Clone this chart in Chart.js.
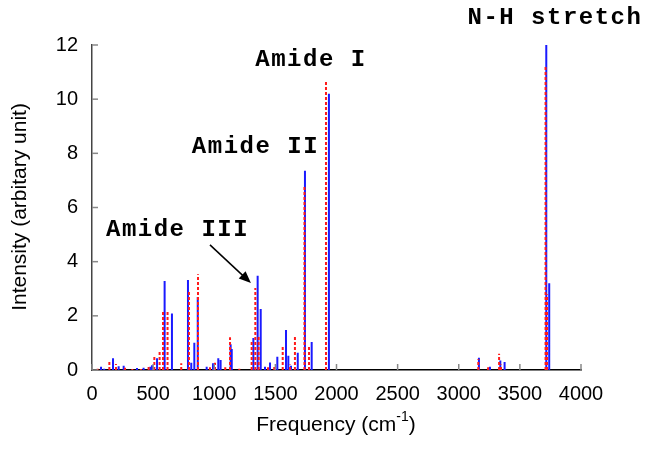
<!DOCTYPE html>
<html>
<head>
<meta charset="utf-8">
<script src="https://cdn.jsdelivr.net/npm/chart.js@4.4.0/dist/chart.umd.min.js"></script>
<style>
body { margin: 0; background: #fff; }
#spectrum { display: block; }
</style>
</head>
<body>
<canvas id="spectrum" width="654" height="461"></canvas>
<script>
/* IR stick spectrum */

// blue sticks (solid)
var blueFreq = [74, 100, 172, 218, 259, 368, 422, 477, 491, 532, 594, 654, 785, 812, 837, 865,
	938, 990, 1033, 1052, 1134, 1143, 1320, 1355, 1380, 1415, 1456, 1516, 1587, 1606, 1628,
	1683, 1742, 1797, 1938, 3165, 3255, 3340, 3375, 3716, 3740];
var blueInt = [0.12, 0.05, 0.43, 0.14, 0.16, 0.07, 0.08, 0.12, 0.18, 0.43, 3.29, 2.09, 3.32, 0.27, 1.01, 2.7,
	0.12, 0.25, 0.43, 0.37, 0.95, 0.78, 1.18, 3.48, 2.25, 0.12, 0.28, 0.49, 1.48, 0.53, 0.16,
	0.64, 7.36, 1.03, 10.2, 0.45, 0.12, 0.35, 0.3, 12.0, 3.2];

// red sticks (dotted)
var redFreq = [46, 142, 196, 270, 330, 400, 463, 510, 553, 581, 618, 730, 793, 867,
	965, 1006, 1090, 1129, 1205, 1306, 1336, 1363, 1440, 1491, 1560, 1620, 1660,
	1738, 1775, 1914, 3160, 3240, 3330, 3345, 3710, 3722];
var redInt = [0.05, 0.31, 0.22, 0.08, 0.04, 0.04, 0.12, 0.49, 0.68, 2.22, 2.15, 0.25, 2.95, 3.54,
	0.1, 0.27, 0.1, 1.21, 0.05, 1.05, 3.03, 1.29, 0.1, 0.16, 0.86, 0.2, 1.29,
	6.83, 0.89, 10.65, 0.4, 0.1, 0.6, 0.2, 11.25, 2.8];

var xTicks = [0, 500, 1000, 1500, 2000, 2500, 3000, 3500, 4000];
var yTicks = [0, 2, 4, 6, 8, 10, 12];

var peakLabels = ['N-H stretch', 'Amide I', 'Amide II', 'Amide III'];

// each stick = (f,0) -> (f,I) then a gap
function sticks(freqs, ints) {
	var pts = [];
	freqs.forEach(function(f, i) {
		pts.push({x: f, y: 0}, {x: f, y: ints[i]}, {x: f, y: null});
	});
	return pts;
}

var extras = {
	id: 'extras',
	afterDraw: function(chart) {
		var ctx = chart.ctx;
		var xs = chart.scales.x, ys = chart.scales.y;
		var area = chart.chartArea;
		ctx.save();

		// inward tick marks
		ctx.strokeStyle = '#888';
		ctx.lineWidth = 1.5;
		xTicks.forEach(function(v) {
			var px = xs.getPixelForValue(v);
			ctx.beginPath();
			ctx.moveTo(px, area.bottom);
			ctx.lineTo(px, area.bottom - 6);
			ctx.stroke();
		});
		yTicks.forEach(function(v) {
			var py = ys.getPixelForValue(v);
			ctx.beginPath();
			ctx.moveTo(area.left, py);
			ctx.lineTo(area.left + 6, py);
			ctx.stroke();
		});

		// axis titles
		ctx.fillStyle = '#000';
		ctx.font = '21px "Liberation Sans", Arial, sans-serif';
		ctx.textBaseline = 'middle';
		ctx.textAlign = 'center';
		ctx.save();
		ctx.translate(20, 207);
		ctx.rotate(-Math.PI / 2);
		ctx.fillText('Intensity (arbitary unit)', 0, 0);
		ctx.restore();

		var t1 = 'Frequency (cm', t2 = '-1', t3 = ')';
		ctx.font = '21px "Liberation Sans", Arial, sans-serif';
		var w1 = ctx.measureText(t1).width, w3 = ctx.measureText(t3).width;
		ctx.font = '14px "Liberation Sans", Arial, sans-serif';
		var w2 = ctx.measureText(t2).width;
		var x0 = 336 - (w1 + w2 + w3) / 2;
		ctx.textAlign = 'left';
		ctx.font = '21px "Liberation Sans", Arial, sans-serif';
		ctx.fillText(t1, x0, 425);
		ctx.fillText(t3, x0 + w1 + w2, 425);
		ctx.font = '14px "Liberation Sans", Arial, sans-serif';
		ctx.fillText(t2, x0 + w1, 417);

		// peak annotations
		ctx.font = 'bold 24px "Liberation Mono", "Courier New", monospace';
		ctx.letterSpacing = '1.5px';
		ctx.textAlign = 'center';
		var spots = [[3787, 13.0], [1791, 11.45], [1337, 8.23], [700, 5.17]];
		peakLabels.forEach(function(txt, i) {
			ctx.fillText(txt, xs.getPixelForValue(spots[i][0]), ys.getPixelForValue(spots[i][1]));
		});
		ctx.letterSpacing = '0px';

		// arrow to Amide III
		var ax = xs.getPixelForValue(965), ay = ys.getPixelForValue(4.62);
		var bx = xs.getPixelForValue(1300), by = ys.getPixelForValue(3.21);
		var ang = Math.atan2(by - ay, bx - ax);
		ctx.strokeStyle = '#000';
		ctx.lineWidth = 1.5;
		ctx.beginPath();
		ctx.moveTo(ax, ay);
		ctx.lineTo(bx - 8 * Math.cos(ang), by - 8 * Math.sin(ang));
		ctx.stroke();
		ctx.beginPath();
		ctx.moveTo(bx, by);
		ctx.lineTo(bx - 12 * Math.cos(ang) + 5 * Math.sin(ang), by - 12 * Math.sin(ang) - 5 * Math.cos(ang));
		ctx.lineTo(bx - 12 * Math.cos(ang) - 5 * Math.sin(ang), by - 12 * Math.sin(ang) + 5 * Math.cos(ang));
		ctx.closePath();
		ctx.fillStyle = '#000';
		ctx.fill();

		ctx.restore();
	}
};

var chart = new Chart(document.getElementById('spectrum').getContext('2d'), {
	type: 'line',
	data: {
		datasets: [{
			label: 'red',
			data: sticks(redFreq, redInt),
			borderColor: '#ff1a1a',
			borderWidth: 2,
			borderDash: [3, 2],
			pointRadius: 0,
			spanGaps: false,
			order: 0
		}, {
			label: 'blue',
			data: sticks(blueFreq, blueInt),
			borderColor: '#1a1aff',
			borderWidth: 2,
			pointRadius: 0,
			spanGaps: false,
			order: 1
		}]
	},
	options: {
		responsive: false,
		animation: false,
		events: [],
		layout: { padding: { top: 45, right: 73, left: 0, bottom: 0 } },
		plugins: { legend: { display: false }, tooltip: { enabled: false } },
		scales: {
			x: {
				type: 'linear',
				min: 0,
				max: 4000,
				afterBuildTicks: function(s) { s.ticks = xTicks.map(function(v) { return {value: v}; }); },
				ticks: {
					color: '#000',
					font: { size: 20, family: '"Liberation Sans", Arial, sans-serif' },
					padding: 12,
					maxRotation: 0,
					callback: function(v) { return String(v); }
				},
				grid: { display: false, drawTicks: false },
				border: { color: '#000', width: 1.5 },
				afterFit: function(s) { s.height = 91; }
			},
			y: {
				min: 0,
				max: 12,
				afterBuildTicks: function(s) { s.ticks = yTicks.map(function(v) { return {value: v}; }); },
				ticks: {
					color: '#000',
					font: { size: 20, family: '"Liberation Sans", Arial, sans-serif' },
					padding: 14,
					callback: function(v) { return String(v); }
				},
				grid: { display: false, drawTicks: false },
				border: { color: '#444', width: 1.5 },
				afterFit: function(s) { s.width = 92; }
			}
		}
	},
	plugins: [extras]
});
</script>
</body>
</html>
